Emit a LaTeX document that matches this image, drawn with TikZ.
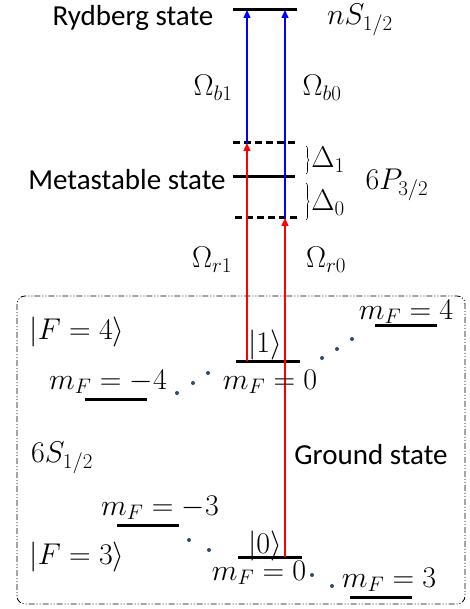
\RequirePackage{fix-cm}
\documentclass[tikz,border=0pt]{standalone}
\usepackage[no-math]{fontspec}
\setmainfont{Carlito}
\usepackage{amsmath}
\usetikzlibrary{arrows.meta,positioning,calc,decorations.pathreplacing}
\definecolor{lvRed}{HTML}{FF0000}
\definecolor{lvBlue}{HTML}{0000FF}
\definecolor{lvDot}{HTML}{2E4A72}
\tikzset{
  lvl/.style={draw=black, line width=3pt},
  lvlD/.style={lvl, dash pattern=on 7pt off 4pt},
  arrR/.style={-{Triangle[length=8pt,width=7pt]}, line width=1.4pt, draw=lvRed, fill=lvRed},
  arrB/.style={arrR, draw=lvBlue, fill=lvBlue},
  txt/.style={font=\fontsize{29}{34}\selectfont, inner sep=0pt},
  mth/.style={font=\fontsize{30}{35}\selectfont, inner sep=0pt},
  dotB/.style={circle, fill=lvDot, inner sep=0pt, minimum size=4pt},
  brc/.style={decorate, decoration={brace, amplitude=3pt}, line width=0.6pt},
  grnd/.style={draw, line width=0.8pt, rounded corners=8pt, dash pattern=on 6pt off 2pt on 1pt off 2pt on 1pt off 2pt},
}

\begin{document}
\begin{tikzpicture}[x=1pt, y=-1pt]
  \useasboundingbox (0,0) rectangle (469,609);
  % x positions of the two laser paths
  \coordinate (xL) at (247,0);
  \coordinate (xR) at (285,0);
  % levels
  \coordinate (ryd) at (265,10);
  \coordinate (pU) at (265,143);
  \coordinate (pM) at (264,177);
  \coordinate (pD) at (266,218);
  \coordinate (q1) at (268,361);
  \coordinate (q4m) at (116,399);
  \coordinate (q4p) at (406,325);
  \coordinate (q3m) at (148,525);
  \coordinate (q0) at (270,557);
  \coordinate (q3p) at (381,597);
  \draw[lvl] (ryd) ++(-32,0) -- ++(64,0);
  \draw[lvlD] (pU) ++(-32,0) -- ++(64,0);
  \draw[lvl] (pM) ++(-31,0) -- ++(62,0);
  \draw[lvlD] (pD) ++(-31,0) -- ++(62,0);
  \draw[lvl] (q1) ++(-32,0) -- ++(64,0);
  \draw[lvl] (q4m) ++(-31,0) -- ++(62,0);
  \draw[lvl] (q4p) ++(-31,0) -- ++(62,0);
  \draw[lvl] (q3m) ++(-31,0) -- ++(62,0);
  \draw[lvl] (q0) ++(-32,0) -- ++(64,0);
  \draw[lvl] (q3p) ++(-31,0) -- ++(62,0);

  % ground-state box
  \draw[grnd] (17,296) rectangle (465,604);

  % lasers
  \draw[arrR] (q1 -| xL) -- (pU -| xL);
  \draw[arrR] (q0 -| xR) -- (pD -| xR);
  \draw[arrB] (pU -| xL) -- (ryd -| xL);
  \draw[arrB] (pD -| xR) -- (ryd -| xR);

  % detunings
  \draw[brc] (306,146) -- (306,174);
  \draw[brc] (306,183) -- (306,220);

  % labels
  \node[txt] (rydT) at (133,18) {Rydberg state};
  \node[mth] (rydS) at (360,20) {$nS_{1/2}$};
  \node[txt] (metT) at (127,180) {Metastable state};
  \node[mth] (metS) at (397,185) {$6P_{3/2}$};
  \node[mth] (d1) at (328,160) {$\Delta_1$};
  \node[mth] (d0) at (328,203) {$\Delta_0$};
  \node[mth] (ob1) at (213,88) {$\Omega_{b1}$};
  \node[mth] (ob0) at (322,88) {$\Omega_{b0}$};
  \node[mth] (or1) at (212,260) {$\Omega_{r1}$};
  \node[mth] (or0) at (326,260) {$\Omega_{r0}$};
  \node[mth] (f4) at (77,332) {$|F=4\rangle$};
  \node[mth] (k1) at (265,345) {$|1\rangle$};
  \node[mth] (m0u) at (270,382) {$m_F=0$};
  \node[mth] (m4m) at (108,382) {$m_F=-4$};
  \node[mth] (m4p) at (406,312) {$m_F=4$};
  \node[mth] (sS) at (62,458) {$6S_{1/2}$};
  \node[txt] (gT) at (371,455) {Ground state};
  \node[mth] (m3m) at (160,508) {$m_F=-3$};
  \node[mth] (f3) at (77,557) {$|F=3\rangle$};
  \node[mth] (k0) at (265,546) {$|0\rangle$};
  \node[mth] (m0d) at (259,573) {$m_F=0$};
  \node[mth] (m3p) at (389,580) {$m_F=3$};

  % sublevel dots
  \foreach \p [count=\i] in {(177,393),(193,383),(208,373),(322,358),(337,349),(352,339),(189,540),(209,550),(312,575),(332,586)}
    \node[dotB] (dt\i) at \p {};
\end{tikzpicture}
\end{document}
